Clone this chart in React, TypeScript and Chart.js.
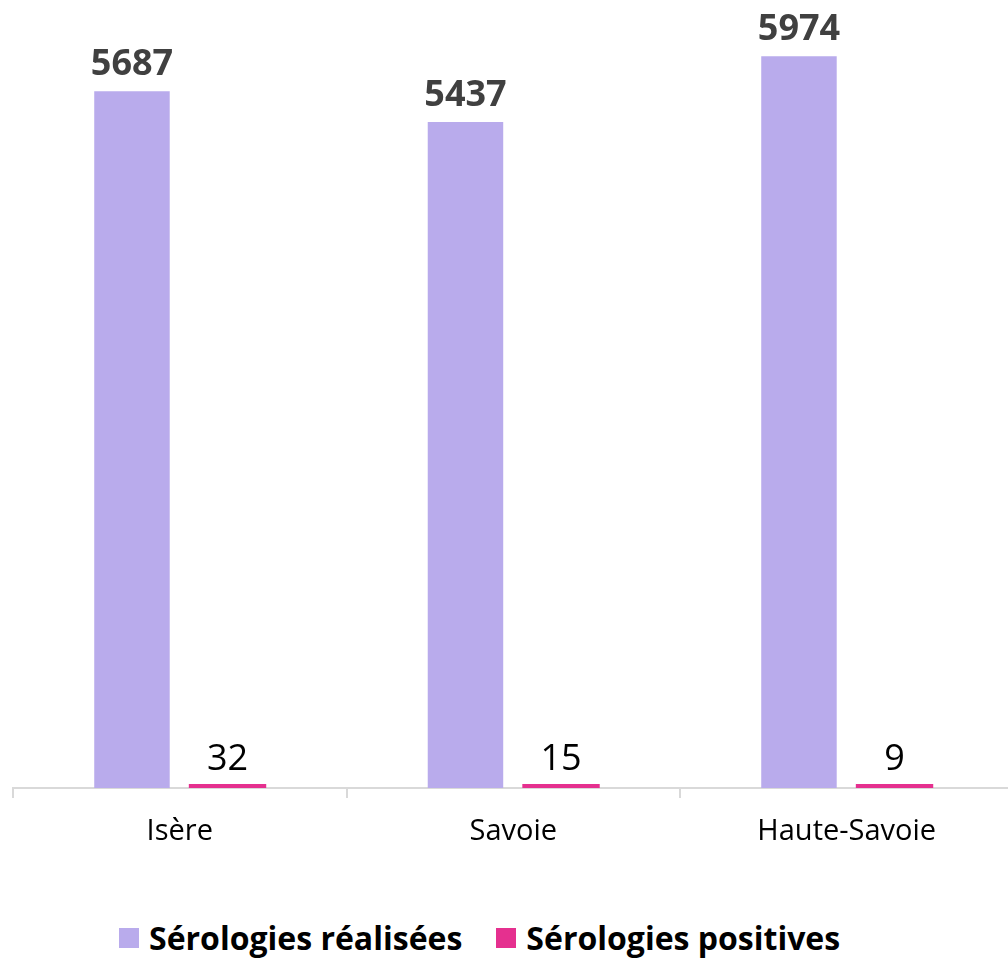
import React, { useEffect, useRef } from "react";
import { Chart, registerables } from "chart.js";

Chart.register(...registerables);

const categories = ["Isère", "Savoie", "Haute-Savoie"];
const seriesNames = ["Sérologies réalisées", "Sérologies positives"];
const realisees = [5687, 5437, 5974];
const positives = [32, 15, 9];
const seriesColors = ["#B9ABEC", "#E5308F"];

const valueLabels = {
  id: "valueLabels",
  afterDatasetsDraw(chart: any) {
    const ctx = chart.ctx;
    chart.data.datasets.forEach((ds: any, i: number) => {
      const meta = chart.getDatasetMeta(i);
      meta.data.forEach((el: any, j: number) => {
        ctx.save();
        ctx.font = i === 0 ? 'bold 36px "Open Sans"' : '36px "Open Sans"';
        ctx.fillStyle = i === 0 ? "#404040" : "#000000";
        ctx.textAlign = "center";
        ctx.textBaseline = "alphabetic";
        ctx.fillText(String(ds.data[j]), el.x, el.y - (i === 0 ? 16 : 14));
        ctx.restore();
      });
    });
  },
};

export default function App() {
  const ref = useRef<HTMLCanvasElement>(null);
  useEffect(() => {
    if (!ref.current) return;
    const chart = new Chart(ref.current, {
      type: "bar",
      data: {
        labels: categories,
        datasets: [
          {
            label: seriesNames[0],
            data: realisees,
            backgroundColor: seriesColors[0],
            categoryPercentage: 0.573,
            barPercentage: 0.79,
          },
          {
            label: seriesNames[1],
            data: positives,
            backgroundColor: seriesColors[1],
            categoryPercentage: 0.573,
            barPercentage: 0.81,
            minBarLength: 4,
          },
        ],
      },
      options: {
        responsive: false,
        devicePixelRatio: 1,
        animation: false,
        layout: { padding: { top: 53, left: 13, right: 6.5, bottom: 0 } },
        scales: {
          x: {
            grid: {
              display: true,
              drawOnChartArea: false,
              drawTicks: true,
              tickLength: 10,
              color: "#d9d9d9",
              lineWidth: 2,
              offset: true,
            },
            border: { display: true, color: "#d9d9d9", width: 2 },
            ticks: {
              font: { family: '"Open Sans"', size: 29 },
              color: "#000000",
              padding: 16,
            },
            afterFit: (s: any) => {
              s.height = 80;
            },
          },
          y: { display: false, min: 0, max: 6000 },
        },
        plugins: {
          legend: { display: false },
          tooltip: { enabled: false },
        },
      },
      plugins: [valueLabels],
    });
    return () => chart.destroy();
  }, []);

  return (
    <div
      style={{
        position: "absolute",
        left: 0,
        top: 0,
        width: 1008,
        height: 960,
        overflow: "hidden",
        background: "#ffffff",
      }}
    >
      <canvas ref={ref} width={1020} height={868} style={{ display: "block" }} />
      <div
        style={{
          position: "absolute",
          left: 119,
          top: 922,
          display: "flex",
          alignItems: "center",
          fontFamily: '"Open Sans"',
          fontWeight: 700,
          fontSize: 32,
          lineHeight: "31px",
          whiteSpace: "nowrap",
          color: "#000000",
        }}
      >
        {seriesNames.map((n, i) => (
          <div
            key={n}
            style={{ display: "flex", alignItems: "center", marginRight: i === 0 ? 34 : 0 }}
          >
            <span
              style={{
                display: "inline-block",
                width: 20,
                height: 20,
                background: seriesColors[i],
                marginRight: 10,
              }}
            />
            <span>{n}</span>
          </div>
        ))}
      </div>
    </div>
  );
}
